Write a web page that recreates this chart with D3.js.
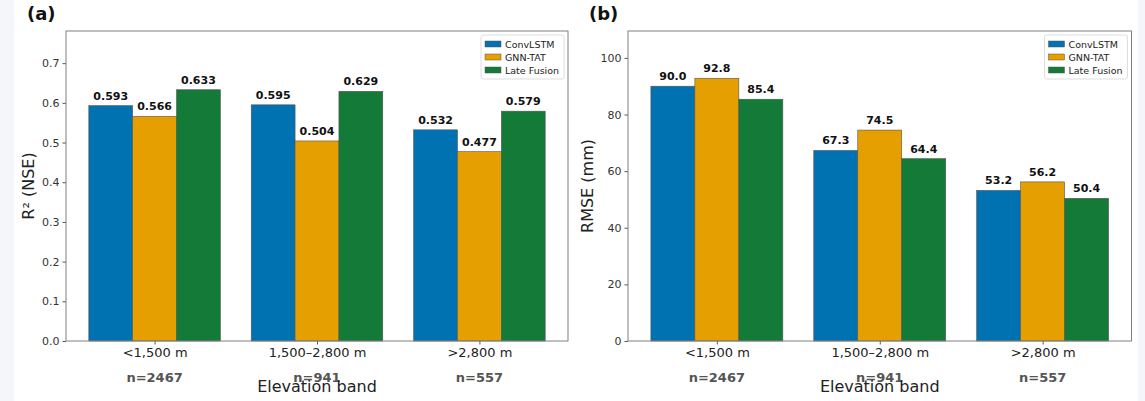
<!DOCTYPE html>
<html>
<head>
<meta charset="utf-8">
<script src="https://cdn.jsdelivr.net/npm/d3@7"></script>
<style>
  body { margin: 0; background: #f4f6fa; }
  svg { display: block; font-family: "DejaVu Sans", sans-serif; }
</style>
</head>
<body>
<svg id="chart" width="1145" height="401"></svg>
<script>
"use strict";

// --- data ---
const bands = ["<1,500 m", "1,500–2,800 m", ">2,800 m"]
const counts = [2467, 941, 557]
const models = ["ConvLSTM", "GNN-TAT", "Late Fusion"]
const colors = ["#0072B2", "#E69F00", "#137a37"]

const r2ConvLSTM = [0.593, 0.595, 0.532]
const r2GnnTat = [0.566, 0.504, 0.477]
const r2LateFusion = [0.633, 0.629, 0.579]

const rmseConvLSTM = [90.0, 67.3, 53.2]
const rmseGnnTat = [92.8, 74.5, 56.2]
const rmseLateFusion = [85.4, 64.4, 50.4]

const r2Ticks = [0, 0.1, 0.2, 0.3, 0.4, 0.5, 0.6, 0.7]
const rmseTicks = [0, 20, 40, 60, 80, 100]

const svg = d3.select("#chart")

// figure background (white page on light strip)
svg.append("rect").attr("x", 0).attr("y", 0).attr("width", 1145).attr("height", 401).attr("fill", "#f4f6fa")
svg.append("rect").attr("x", 14).attr("y", 0).attr("width", 1124).attr("height", 401).attr("fill", "#ffffff")

const barWidth = 0.27

function drawPanel (opts) {
    const { left, right, top, bottom, series, yMax, ticks, tickFmt, valFmt, yLabel, yLabelX, tag, tagX } = opts

    const x = d3.scaleLinear().domain([-0.5455, 2.5455]).range([left, right])
    const y = d3.scaleLinear().domain([0, yMax]).range([bottom, top])
    const g = svg.append("g")

    // bars
    series.forEach((vals, si) => {
        const off = (si - 1) * barWidth
        g.append("g").selectAll("rect")
            .data(vals)
            .enter().append("rect")
            .attr("x", (d, i) => x(i + off - barWidth / 2))
            .attr("width", x(barWidth) - x(0))
            .attr("y", d => y(d))
            .attr("height", d => y(0) - y(d))
            .attr("fill", colors[si])
            .attr("stroke", "#555")
            .attr("stroke-width", 0.6)

        g.append("g").selectAll("text")
            .data(vals)
            .enter().append("text")
            .attr("x", (d, i) => x(i + off))
            .attr("y", d => y(d) - 6)
            .attr("text-anchor", "middle")
            .attr("font-size", 11)
            .attr("font-weight", "bold")
            .attr("fill", "#111")
            .text(d => d3.format(valFmt)(d))
    })

    // y axis
    const ya = g.append("g")
        .attr("transform", `translate(${left},0)`)
        .call(d3.axisLeft(y).tickValues(ticks).tickFormat(d3.format(tickFmt)).tickSize(3.5).tickPadding(3))
    ya.select(".domain").remove()
    ya.selectAll("line").attr("stroke", "#555")
    ya.selectAll("text").attr("font-size", 11).attr("fill", "#333").attr("font-family", "DejaVu Sans")

    // x axis
    const xa = g.append("g")
        .attr("transform", `translate(0,${bottom})`)
        .call(d3.axisBottom(x).tickValues([0, 1, 2]).tickFormat(i => bands[i]).tickSize(3.5).tickPadding(5))
    xa.select(".domain").remove()
    xa.selectAll("line").attr("stroke", "#555")
    xa.selectAll("text").attr("font-size", 13).attr("fill", "#222").attr("font-family", "DejaVu Sans")
        .attr("dy", null).attr("y", 16)

    // sample counts
    g.append("g").selectAll("text")
        .data(counts)
        .enter().append("text")
        .attr("x", (d, i) => x(i))
        .attr("y", bottom + 41)
        .attr("text-anchor", "middle")
        .attr("font-size", 13)
        .attr("font-weight", "bold")
        .attr("fill", "#555")
        .text(d => "n=" + d)

    // spines
    g.append("rect")
        .attr("x", left).attr("y", top)
        .attr("width", right - left).attr("height", bottom - top)
        .attr("fill", "none").attr("stroke", "#808080").attr("stroke-width", 1)

    // axis labels
    g.append("text")
        .attr("x", (left + right) / 2).attr("y", 392)
        .attr("text-anchor", "middle").attr("font-size", 16).attr("fill", "#222")
        .text("Elevation band")
    g.append("text")
        .attr("transform", `translate(${yLabelX},${(top + bottom) / 2}) rotate(-90)`)
        .attr("text-anchor", "middle").attr("font-size", 16).attr("fill", "#222")
        .text(yLabel)

    // panel tag
    g.append("text")
        .attr("x", tagX).attr("y", 20)
        .attr("font-size", 18).attr("font-weight", "bold").attr("fill", "#111")
        .text(tag)

    // legend
    const lx = right - 87, ly = top + 4
    const lg = g.append("g").attr("transform", `translate(${lx},${ly})`)
    lg.append("rect").attr("width", 83).attr("height", 44).attr("rx", 2)
        .attr("fill", "#fff").attr("stroke", "#d6d6d6").attr("stroke-width", 0.8)
    models.forEach((m, i) => {
        lg.append("rect").attr("x", 4).attr("y", 6 + i * 13).attr("width", 16).attr("height", 6)
            .attr("fill", colors[i]).attr("stroke", "#555").attr("stroke-width", 0.5)
        lg.append("text").attr("x", 24).attr("y", 13 + i * 13)
            .attr("font-size", 9.5).attr("fill", "#222").text(m)
    })
}

drawPanel({
    left: 66, right: 568, top: 31, bottom: 341,
    series: [r2ConvLSTM, r2GnnTat, r2LateFusion],
    yMax: 0.781, ticks: r2Ticks, tickFmt: ".1f", valFmt: ".3f",
    yLabel: "R² (NSE)", yLabelX: 34, tag: "(a)", tagX: 27
})

drawPanel({
    left: 628, right: 1131.5, top: 31, bottom: 341,
    series: [rmseConvLSTM, rmseGnnTat, rmseLateFusion],
    yMax: 109.5, ticks: rmseTicks, tickFmt: "d", valFmt: ".1f",
    yLabel: "RMSE (mm)", yLabelX: 593, tag: "(b)", tagX: 589
})
</script>
</body>
</html>
